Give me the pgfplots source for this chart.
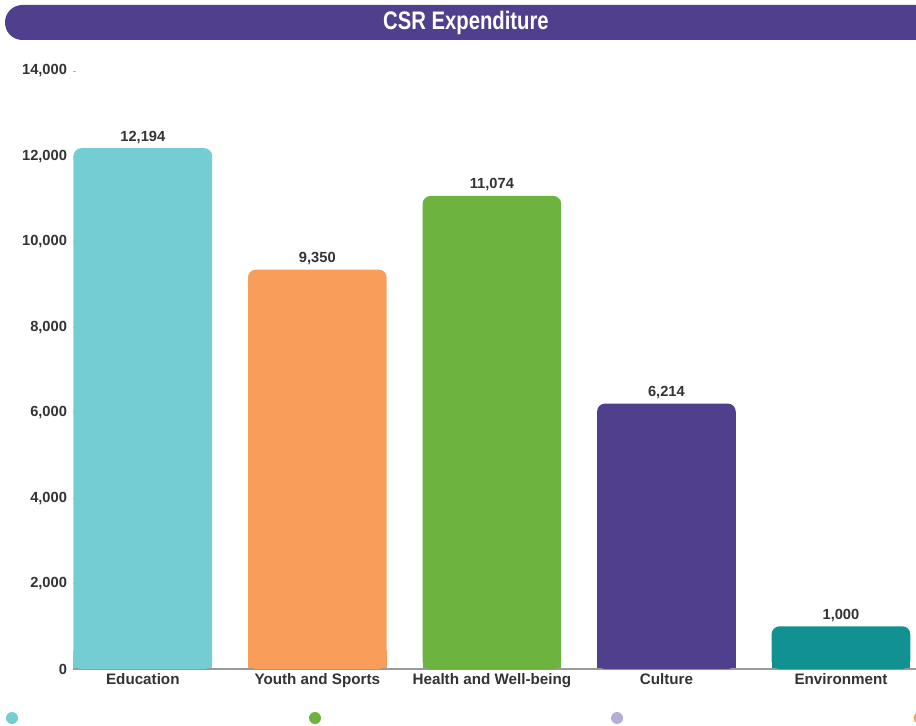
\documentclass[border=0pt]{standalone}
\usepackage{pgfplots}
\pgfplotsset{compat=1.18}
\usepackage{fontspec}
\setmainfont{Liberation Sans}
\definecolor{cEdu}{HTML}{74CDD3}
\definecolor{cYouth}{HTML}{F89D5A}
\definecolor{cHealth}{HTML}{6DB33F}
\definecolor{cCult}{HTML}{4F3F8C}
\definecolor{cEnv}{HTML}{119191}
\definecolor{cLav}{HTML}{B7AED8}
\definecolor{txt}{HTML}{333333}
\pgfplotstableread{
x v
0 12194
1 9350
2 11074
3 6214
4 1000
}\csrdata
\newcommand\csrbars{%
\addplot[fill=cEdu, draw=none] table[x=x, y=v, restrict x to domain=-0.1:0.1] {\csrdata};
\addplot[fill=cYouth, draw=none] table[x=x, y=v, restrict x to domain=0.9:1.1] {\csrdata};
\addplot[fill=cHealth, draw=none] table[x=x, y=v, restrict x to domain=1.9:2.1] {\csrdata};
\addplot[fill=cCult, draw=none] table[x=x, y=v, restrict x to domain=2.9:3.1] {\csrdata};
\addplot[fill=cEnv, draw=none] table[x=x, y=v, restrict x to domain=3.9:4.1] {\csrdata};
}
\begin{document}
\begin{tikzpicture}
\clip (-54.75pt,-42pt) rectangle (632.25pt,501.75pt);
\fill[cCult, rounded corners=13pt] (-51pt,471.75pt) rectangle (660pt,498pt);
\node[text=white, font=\bfseries\fontsize{19}{22}\selectfont, xscale=0.8] at (294.75pt,484.9pt) {CSR Expenditure};
% square-bottom base of the bars (same data, lowest 400 units only)
\begin{axis}[
  at={(0pt,0pt)}, anchor=south west, scale only axis,
  width=632.25pt, height=12.814pt,
  xmin=-0.40, xmax=4.43, ymin=0, ymax=400,
  ybar, bar width=104pt, bar shift=0pt,
  hide axis, clip=true,
]
\csrbars
\end{axis}
\begin{axis}[
  at={(0pt,0pt)}, anchor=south west, scale only axis,
  width=632.25pt, height=448.5pt,
  xmin=-0.40, xmax=4.43,
  ymin=0, ymax=14000,
  ybar, bar width=104pt, bar shift=0pt,
  every axis plot/.append style={rounded corners=6pt},
  axis x line*=bottom, axis y line*=left,
  x axis line style={draw=black!40, line width=1.1pt, -},
  y axis line style={draw=none},
  xtick={0,1,2,3,4},
  xticklabels={Education,Youth and Sports,Health and Well-being,Culture,Environment},
  xtick style={draw=none},
  ytick={0,2000,4000,6000,8000,10000,12000,14000},
  yticklabels={0,{2,000},{4,000},{6,000},{8,000},{10,000},{12,000},{14,000}},
  scaled y ticks=false,
  ytick style={draw=black!30, line width=0.6pt},
  major tick length=2pt,
  tick label style={font=\bfseries\fontsize{11}{13}\selectfont, text=txt},
  x tick label style={font=\bfseries\fontsize{11.4}{13}\selectfont, yshift=2.5pt},
  y tick label style={xshift=-1pt},
  point meta=rawy,
  nodes near coords,
  nodes near coords style={font=\bfseries\fontsize{11}{13}\selectfont, text=txt,
    /pgf/number format/.cd, fixed, precision=0, 1000 sep={,}, assume math mode=true},
  clip=true,
]
\csrbars
\end{axis}
\fill[cEdu] (-45.75pt,-36.75pt) circle (4.5pt);
\fill[cHealth] (181.5pt,-36.75pt) circle (4.5pt);
\fill[cLav] (408pt,-36.75pt) circle (4.5pt);
\fill[cYouth] (635pt,-36.75pt) circle (4.5pt);
\end{tikzpicture}
\end{document}
